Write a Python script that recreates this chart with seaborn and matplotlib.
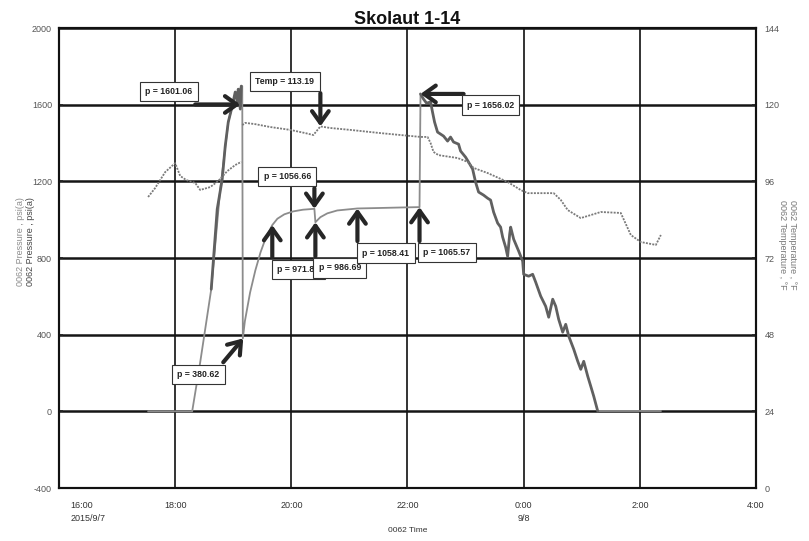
import matplotlib
matplotlib.use('Agg')
import matplotlib.pyplot as plt
import matplotlib.transforms as mtransforms
import numpy as np
import pandas as pd
import seaborn as sns

# time axis: hours after 2015/9/7 16:00
tick_hours = [0, 2, 4, 6, 8, 10, 12]
tick_labels = ['16:00\n2015/9/7', '18:00', '20:00', '22:00', '0:00\n9/8', '2:00', '4:00']

# thin (light) pressure trace
light_main_h = [1.534, 2.293, 2.431, 2.621, 2.776, 2.914, 3.034, 3.155, 3.165, 3.20, 3.29, 3.38,
                3.47, 3.56, 3.672, 3.76, 3.88, 4.03, 4.20, 4.397, 4.414, 4.50, 4.62, 4.79,
                5.138, 5.53, 5.88, 6.207, 6.224]
light_main_psi = [0, 0, 256, 637, 1159, 1509, 1655, 1697, 380.62, 470, 620, 735,
                  830, 905, 971.81, 1005, 1028, 1043, 1052, 1056.66, 986.69, 1013, 1033, 1048,
                  1058.41, 1061, 1063.5, 1065.57, 1656.02]
light_tail_h = [9.276, 10.362]
light_tail_psi = [0, 0]

# thick (dark) pressure trace
dark_rise_h = [2.621, 2.724, 2.810, 2.862, 2.914, 2.983, 3.034, 3.069, 3.086, 3.121, 3.138]
dark_rise_psi = [637, 1055, 1211, 1384, 1509, 1593, 1666, 1614, 1681, 1577, 1697]
dark_fall_h = [6.224, 6.276, 6.328, 6.397, 6.431, 6.466, 6.517, 6.621, 6.690, 6.741, 6.793,
               6.879, 6.914, 7.000, 7.052, 7.121, 7.172, 7.224, 7.310, 7.379, 7.431, 7.483,
               7.552, 7.603, 7.638, 7.690, 7.724, 7.759, 7.776, 7.828, 7.914, 7.983, 8.000,
               8.086, 8.155, 8.207, 8.293, 8.379, 8.431, 8.500, 8.552, 8.603, 8.672, 8.724,
               8.776, 8.862, 8.931, 8.983, 9.034, 9.103, 9.155, 9.207, 9.276]
dark_fall_psi = [1656, 1629, 1608, 1614, 1561, 1509, 1457, 1436, 1410, 1431, 1405,
                 1394, 1358, 1326, 1300, 1264, 1196, 1144, 1128, 1112, 1102, 1039,
                 982, 961, 909, 856, 809, 924, 961, 898, 836, 783, 715,
                 705, 715, 674, 601, 548, 491, 585, 548, 480, 413, 454,
                 392, 324, 261, 219, 261, 183, 131, 78, 0]

# temperature traces, degF
temp_a_h = [1.534, 1.655, 1.828, 2.0, 2.086, 2.190, 2.345, 2.431, 2.603, 2.741, 2.897, 3.034, 3.138]
temp_a_f = [91.1, 93.9, 98.9, 101.7, 97.7, 96.4, 95.5, 93.3, 94.2, 96.1, 99.2, 101.1, 102.1]
temp_b_h = [3.155, 3.207, 3.379, 3.638, 3.983, 4.241, 4.379, 4.5, 4.672, 5.017, 5.534, 5.879,
            6.224, 6.345, 6.397, 6.448, 6.534, 6.862, 7.034, 7.138, 7.379, 7.724, 7.948, 8.069,
            8.517, 8.638, 8.759, 8.983, 9.328, 9.672, 9.845, 10.017, 10.276, 10.362]
temp_b_f = [113.6, 114.3, 113.9, 113.0, 112.1, 111.1, 110.5, 113.19, 112.7, 112.1, 111.1, 110.5,
            109.9, 109.9, 108.0, 105.2, 104.2, 103.3, 102.1, 100.2, 98.6, 95.8, 93.3, 92.3,
            92.3, 90.2, 87.0, 84.5, 86.4, 86.1, 79.2, 77.0, 76.1, 79.2]

# callouts: label, point (h, value), arrow tail (h, value), box centre (h, value)
p_notes = [
    ('p = 1601.06', (3.12, 1601.06), (2.345, 1601.06), (1.888, 1668)),
    ('p = 380.62', (3.172, 380.62), (2.828, 256), (2.397, 193)),
    ('p = 971.81', (3.672, 971.81), (3.672, 804), (4.121, 741)),
    ('p = 986.69', (4.414, 986.69), (4.414, 809), (4.836, 749)),
    ('p = 1056.66', (4.397, 1056.66), (4.397, 1164), (3.931, 1225)),
    ('p = 1058.41', (5.138, 1058.41), (5.138, 888), (5.629, 825)),
    ('p = 1065.57', (6.207, 1065.57), (6.207, 888), (6.681, 828)),
    ('p = 1656.02', (6.224, 1656.02), (6.966, 1656.02), (7.431, 1598)),
]
t_notes = [
    ('Temp = 113.19', (4.5, 113.19), (4.5, 123.6), (3.888, 127.3)),
]


def trace(*segments):
    frames = [pd.DataFrame({'hours': h, 'value': v, 'seg': i}) for i, (h, v) in enumerate(segments)]
    return pd.concat(frames, ignore_index=True)


light = trace((light_main_h, light_main_psi), (light_tail_h, light_tail_psi))
dark = trace((dark_rise_h, dark_rise_psi), (dark_fall_h, dark_fall_psi))
temps = trace((temp_a_h, temp_a_f), (temp_b_h, temp_b_f))

sns.set_theme(style='white')
plt.rcParams['font.family'] = ['Liberation Sans', 'DejaVu Sans']
plt.rcParams['axes.unicode_minus'] = False

fig = plt.figure(figsize=(8.09, 5.41), dpi=100)
ax = fig.add_axes([59 / 809, 1 - 488 / 541, 697 / 809, 460 / 541])
ax2 = ax.twinx()

sns.lineplot(data=light, x='hours', y='value', units='seg', estimator=None, sort=False,
             color='#8c8c8c', linewidth=1.3, ax=ax, legend=False)
sns.lineplot(data=dark, x='hours', y='value', units='seg', estimator=None, sort=False,
             color='#606060', linewidth=2.0, ax=ax, legend=False)
sns.lineplot(data=temps, x='hours', y='value', units='seg', estimator=None, sort=False,
             color='#7a7a7a', linewidth=1.3, linestyle=(0, (1.1, 0.7)), ax=ax2, legend=False)

ax.set_xlim(0, 12)
ax.set_ylim(-400, 2000)
ax2.set_ylim(0, 144)
ax.set_xticks(tick_hours)
ax.set_xticklabels(tick_labels, linespacing=1.6)
ax.set_yticks(np.arange(-400, 2001, 400))
ax2.set_yticks(np.arange(0, 145, 24))

ax.yaxis.grid(True, color='#151515', linewidth=1.8)
ax.xaxis.grid(True, color='#333333', linewidth=1.4)
ax.set_axisbelow(True)

ax.tick_params(axis='x', length=0, pad=9, labelsize=6.5, labelcolor='#333333')
ax.tick_params(axis='y', length=3, direction='in', pad=5, labelsize=6.5, labelcolor='#555555')
ax2.tick_params(axis='y', length=3, direction='in', pad=6, labelsize=6.5, labelcolor='#555555')

first = ax.get_xticklabels()[0]
first.set_horizontalalignment('left')
first.set_transform(first.get_transform() + mtransforms.ScaledTranslation(8 / 72, 0, fig.dpi_scale_trans))

for a in (ax, ax2):
    for side in a.spines.values():
        side.set_color('#111111')
        side.set_linewidth(1.5)
    a.set_xlabel('')
    a.set_ylabel('')

ax.set_xlabel('0062 Time', fontsize=6, color='#333333')
ax.xaxis.set_label_coords(0.5, -0.085)

ax.set_title('Skolaut 1-14', fontsize=13, fontweight='bold', color='#111111', pad=3)

# axis titles, one line per trace
fig.text(21 / 809, 1 - 242 / 541, '0062 Pressure , psi(a)', rotation=90, ha='center', va='center',
         fontsize=6.5, color='#8c8c8c')
fig.text(31 / 809, 1 - 242 / 541, '0062 Pressure , psi(a)', rotation=90, ha='center', va='center',
         fontsize=6.5, color='#444444')
fig.text(782 / 809, 1 - 245 / 541, '0062 Temperature , °F', rotation=270, ha='center', va='center',
         fontsize=6.5, color='#777777')
fig.text(792 / 809, 1 - 245 / 541, '0062 Temperature , °F', rotation=270, ha='center', va='center',
         fontsize=6.5, color='#777777')

arrow = dict(arrowstyle='->,head_length=0.7,head_width=0.5', lw=3, color='#262626',
             shrinkA=0, shrinkB=0)
box = dict(boxstyle='square,pad=0.6', fc='white', ec='#333333', lw=0.8)


def callouts(axis, notes):
    for label, point, tail, centre in notes:
        axis.annotate('', xy=point, xytext=tail, arrowprops=arrow, zorder=5)
        axis.text(centre[0], centre[1], label, ha='center', va='center', fontsize=6.3,
                  fontweight='bold', color='#222222', bbox=box, zorder=6)


callouts(ax, p_notes)
callouts(ax2, t_notes)

fig.savefig('out.png', dpi=100)
